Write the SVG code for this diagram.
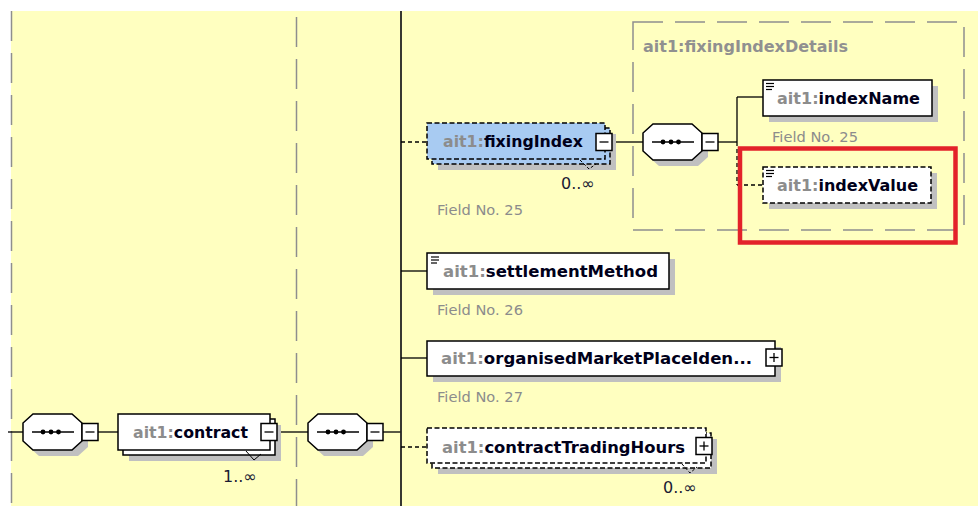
<svg xmlns="http://www.w3.org/2000/svg" width="978" height="506" viewBox="0 0 978 506">
<style>
.bg{fill:#ffffc0}
.sep{stroke:#8e8e8e;stroke-width:1.5;stroke-dasharray:30 12;fill:none}
.ln{stroke:#000;stroke-width:1.3;fill:none}
.dl{stroke:#000;stroke-width:1.3;stroke-dasharray:4 3;fill:none}
.box{fill:#fff;stroke:#000;stroke-width:1.5}
.dbox{fill:#fff;stroke:#000;stroke-width:1.5;stroke-dasharray:5 2.5}
.sel{fill:#a8cbf2;stroke:#000;stroke-width:1.5;stroke-dasharray:5 2.5}
.sh{fill:#c0c0c0}
.nm{font-family:"DejaVu Sans",sans-serif;font-weight:bold;font-size:15.5px;fill:#00001a}
.px{fill:#8c8c8c}
.fn{font-family:"DejaVu Sans",sans-serif;font-size:14px;fill:#8c8c8c}
.mul{font-family:"DejaVu Sans",sans-serif;font-size:16px;fill:#1a1a33}
.grp{font-family:"DejaVu Sans",sans-serif;font-weight:bold;font-size:15px;fill:#909090}
.ic{stroke:#000;stroke-width:1.2}
.dot{fill:#000}
.notch{stroke:#000;stroke-width:1;fill:none}
</style>
<defs>
<g id="oct">
<polygon points="10,0 49,0 59,9 59,27 49,36 10,36 0,27 0,9"/>
</g>
<g id="seqIcon">
<line x1="9" y1="18" x2="51" y2="18" stroke="#000" stroke-width="1.3"/>
<circle cx="20" cy="18" r="2.4" class="dot"/>
<circle cx="28" cy="18" r="2.4" class="dot"/>
<circle cx="35.5" cy="18" r="2.4" class="dot"/>
</g>
<g id="minus">
<rect x="0" y="0" width="16" height="17" class="box"/>
<line x1="3.5" y1="8.5" x2="12.5" y2="8.5" stroke="#000" stroke-width="1.3"/>
</g>
<g id="plus">
<rect x="0" y="0" width="16" height="17" class="box"/>
<line x1="3.5" y1="8.5" x2="12.5" y2="8.5" stroke="#000" stroke-width="1.3"/>
<line x1="8" y1="4" x2="8" y2="13" stroke="#000" stroke-width="1.3"/>
</g>
<g id="simple">
<line x1="0" y1="0.5" x2="8" y2="0.5" class="ic"/>
<line x1="0" y1="3.5" x2="8" y2="3.5" class="ic"/>
<line x1="0" y1="6.5" x2="6" y2="6.5" class="ic"/>
</g>
</defs>

<rect x="0" y="0" width="978" height="506" fill="#fff"/>
<rect x="11" y="11" width="967" height="495" class="bg"/>
<line x1="11.5" y1="11" x2="11.5" y2="506" class="sep"/>
<line x1="296.5" y1="17" x2="296.5" y2="506" class="sep"/>

<g id="fixingIndexDetails">
<rect x="633" y="22" width="331" height="208" class="sep"/>
<text x="643" y="52" class="grp" textLength="205" lengthAdjust="spacingAndGlyphs">ait1:fixingIndexDetails</text>
</g>

<g id="connectors">
<line x1="8" y1="432" x2="23" y2="432" class="ln"/>
<line x1="98" y1="432" x2="118" y2="432" class="ln"/>
<line x1="277" y1="432" x2="308" y2="432" class="ln"/>
<line x1="383" y1="432" x2="401" y2="432" class="ln"/>
<line x1="401" y1="11" x2="401" y2="506" stroke="#222" stroke-width="1.8"/>
<line x1="401" y1="142" x2="427" y2="142" class="dl"/>
<line x1="401" y1="271" x2="427" y2="271" class="ln"/>
<line x1="401" y1="358" x2="427" y2="358" class="ln"/>
<line x1="401" y1="447" x2="427" y2="447" class="dl"/>
<line x1="612" y1="142" x2="643" y2="142" class="ln"/>
<line x1="718" y1="142" x2="737" y2="142" class="ln"/>
<line x1="737" y1="97" x2="737" y2="142" class="ln"/>
<line x1="737" y1="142" x2="737" y2="185" class="dl"/>
<line x1="737" y1="97" x2="763" y2="97" class="ln"/>
<line x1="737" y1="185" x2="763" y2="185" class="dl"/>
</g>

<g id="seq1">
<use href="#oct" x="29" y="420" class="sh"/>
<use href="#oct" x="23" y="414" fill="#fff" stroke="#000" stroke-width="1.5"/>
<use href="#seqIcon" x="23" y="414"/>
<use href="#minus" x="82" y="423.5"/>
</g>

<g id="contract">
<rect x="129" y="425" width="152" height="36" class="sh"/>
<rect x="123" y="419" width="152" height="36" class="box"/>
<rect x="118" y="414" width="152" height="36" class="box"/>
<text x="133" y="438" class="nm" textLength="115" lengthAdjust="spacingAndGlyphs"><tspan class="px">ait1:</tspan>contract</text>
<use href="#minus" x="261" y="423.5"/>
<polyline points="246,451 254,460 261,454" class="notch"/>
<text x="223" y="482" class="mul">1..∞</text>
</g>

<g id="seq2">
<use href="#oct" x="314" y="420" class="sh"/>
<use href="#oct" x="308" y="414" fill="#fff" stroke="#000" stroke-width="1.5"/>
<use href="#seqIcon" x="308" y="414"/>
<use href="#minus" x="367" y="423.5"/>
</g>

<g id="fixingIndex">
<rect x="438" y="134" width="178" height="36" class="sh"/>
<rect x="432" y="128" width="178" height="36" class="sel"/>
<rect x="427" y="123" width="178" height="36" class="sel"/>
<text x="443" y="147" class="nm" textLength="140" lengthAdjust="spacingAndGlyphs"><tspan class="px">ait1:</tspan>fixingIndex</text>
<use href="#minus" x="596" y="133.5"/>
<polyline points="580,160 589,169 596,164" class="notch" stroke-dasharray="3 2"/>
<text x="561" y="189" class="mul">0..∞</text>
<text x="437" y="215" class="fn" textLength="86" lengthAdjust="spacingAndGlyphs">Field No. 25</text>
</g>

<g id="seq3">
<use href="#oct" x="649" y="130" class="sh"/>
<use href="#oct" x="643" y="124" fill="#fff" stroke="#000" stroke-width="1.5"/>
<use href="#seqIcon" x="643" y="124"/>
<use href="#minus" x="702" y="133.5"/>
</g>

<g id="indexName">
<rect x="769" y="86" width="169" height="36" class="sh"/>
<rect x="763" y="80" width="169" height="36" class="box"/>
<use href="#simple" x="766" y="83"/>
<text x="777" y="104" class="nm" textLength="143" lengthAdjust="spacingAndGlyphs"><tspan class="px">ait1:</tspan>indexName</text>
<text x="772" y="142" class="fn" textLength="86" lengthAdjust="spacingAndGlyphs">Field No. 25</text>
</g>

<g id="indexValue">
<rect x="769" y="173" width="168" height="36" class="sh"/>
<rect x="763" y="167" width="168" height="36" class="dbox"/>
<use href="#simple" x="766" y="170"/>
<text x="777" y="191" class="nm" textLength="141" lengthAdjust="spacingAndGlyphs"><tspan class="px">ait1:</tspan>indexValue</text>
</g>

<g id="highlight">
<rect x="740" y="148.5" width="215.5" height="94" fill="none" stroke="#e3222a" stroke-width="4.5"/>
</g>

<g id="settlementMethod">
<rect x="433" y="259" width="242" height="36" class="sh"/>
<rect x="427" y="253" width="242" height="36" class="box"/>
<use href="#simple" x="431" y="256.5"/>
<text x="443" y="277" class="nm" textLength="215" lengthAdjust="spacingAndGlyphs"><tspan class="px">ait1:</tspan>settlementMethod</text>
<text x="437" y="315" class="fn" textLength="86" lengthAdjust="spacingAndGlyphs">Field No. 26</text>
</g>

<g id="organisedMarketPlace">
<rect x="433" y="347" width="348" height="35" class="sh"/>
<rect x="427" y="341" width="348" height="35" class="box"/>
<text x="441" y="364" class="nm" textLength="311" lengthAdjust="spacingAndGlyphs"><tspan class="px">ait1:</tspan>organisedMarketPlaceIden...</text>
<use href="#plus" x="766" y="349"/>
<text x="437" y="402" class="fn" textLength="86" lengthAdjust="spacingAndGlyphs">Field No. 27</text>
</g>

<g id="contractTradingHours">
<rect x="438" y="439" width="279" height="35" class="sh"/>
<rect x="432" y="433" width="279" height="35" class="dbox"/>
<rect x="427" y="428" width="279" height="35" class="dbox"/>
<text x="442" y="453" class="nm" textLength="243" lengthAdjust="spacingAndGlyphs"><tspan class="px">ait1:</tspan>contractTradingHours</text>
<use href="#plus" x="696" y="437.5"/>
<polyline points="682,464 690,473 697,467" class="notch" stroke-dasharray="3 2"/>
<text x="663" y="493" class="mul">0..∞</text>
</g>
</svg>
